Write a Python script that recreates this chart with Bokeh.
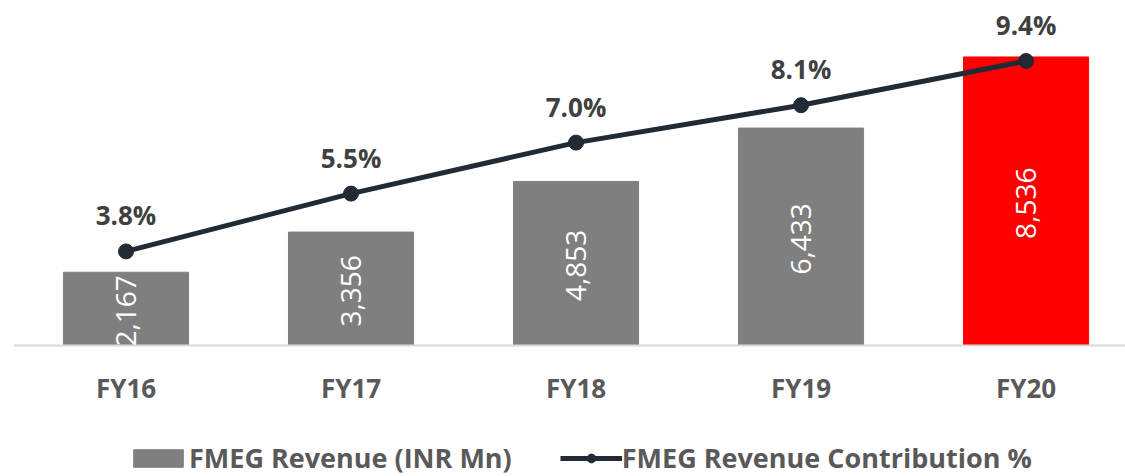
import numpy as np
from bokeh.plotting import figure
from bokeh.models import Range1d, ColumnDataSource, Legend, LegendItem, Span
from bokeh.core.properties import value
from bokeh.embed import file_html
from bokeh.resources import INLINE

categories = ["FY16", "FY17", "FY18", "FY19", "FY20"]
revenue = [2167, 3356, 4853, 6433, 8536]
contribution = [3.8, 5.5, 7.0, 8.1, 9.4]
bar_colors = ["#7F7F7F", "#7F7F7F", "#7F7F7F", "#7F7F7F", "#FF0000"]

FONT = value("Open Sans")
LINE_COLOR = "#222A35"

xs = list(range(len(categories)))
src = ColumnDataSource(dict(
    x=xs,
    cat=categories,
    zero=[0] * len(categories),
    rev=revenue,
    half=[r / 2 for r in revenue],
    rev_label=[f"{r:,}" for r in revenue],
    pct=contribution,
    pct_label=[f"{c:.1f}%" for c in contribution],
    color=bar_colors,
))

p = figure(width=1125, height=476,
           x_range=Range1d(-0.5, 4.442), y_range=Range1d(-3876, 10207),
           output_backend="svg", toolbar_location=None,
           min_border_left=13, min_border_right=0, min_border_top=0,
           min_border_bottom=0)
p.extra_y_ranges = {"pct": Range1d(-2.82, 11.18)}
p.xaxis.visible = False
p.yaxis.visible = False
p.xgrid.visible = False
p.ygrid.visible = False
p.outline_line_color = None

bars = p.vbar(x="x", top="rev", bottom=0, width=0.556, fill_color="color",
              line_color="color", source=src)

p.text(x="x", y="half", text="rev_label", angle=np.pi / 2,
       text_align="center", text_baseline="middle", text_color="white",
       text_font=FONT, text_font_size="28px", y_offset=2, source=src)

# category axis: baseline + labels
p.add_layout(Span(location=0, dimension="width", line_color="#D9D9D9",
                  line_width=2))
p.text(x="x", y="zero", text="cat", y_offset=43,
       text_align="center", text_baseline="middle", text_color="#595959",
       text_font=FONT, text_font_style="bold", text_font_size="26px",
       source=src)

line = p.line(x="x", y="pct", y_range_name="pct", line_color=LINE_COLOR,
              line_width=5, source=src)
dots = p.scatter(x="x", y="pct", y_range_name="pct", size=15,
                 fill_color=LINE_COLOR, line_color=LINE_COLOR, source=src)

p.text(x="x", y="pct", text="pct_label", y_range_name="pct", y_offset=-36,
       text_align="center", text_baseline="middle", text_color="#404040",
       text_font=FONT, text_font_style="bold", text_font_size="26px",
       source=src)

legend = Legend(items=[
    LegendItem(label="FMEG Revenue (INR Mn)", renderers=[bars], index=0),
    LegendItem(label="FMEG Revenue Contribution %", renderers=[line, dots]),
], location=(114, 0), orientation="horizontal", padding=0, margin=0,
    spacing=48, glyph_width=62, glyph_height=22, label_standoff=0,
    label_text_font="Open Sans", label_text_font_style="bold",
    label_text_font_size="27px", label_text_color="#595959",
    border_line_color=None, background_fill_alpha=0)
p.add_layout(legend)

open("out.html", "w").write(file_html(p, INLINE))
